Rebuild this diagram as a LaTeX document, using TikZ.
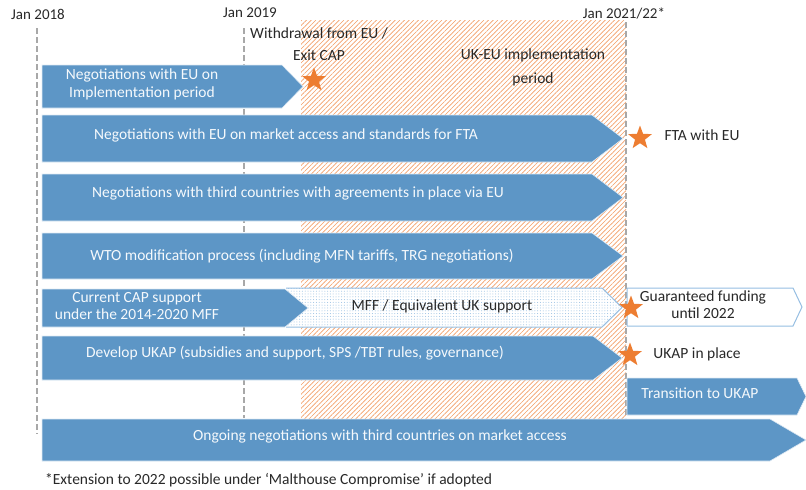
\documentclass[tikz,border=0pt]{standalone}
\usepackage{fontspec}
\setmainfont{Carlito}
\usetikzlibrary{shapes.geometric,patterns.meta}
\definecolor{barblue}{RGB}{93,150,198}
\definecolor{paleblue}{RGB}{150,190,226}
\definecolor{exitorange}{RGB}{237,125,49}
\definecolor{dategray}{RGB}{168,168,168}
\definecolor{inktext}{RGB}{40,40,40}
\tikzstyle{bar} = [fill=barblue, draw=white!80!barblue, line width=0.6pt]
\tikzstyle{openbar} = [fill=white, draw=paleblue, line width=1pt]
\tikzstyle{bartext} = [text=white!94!barblue, align=center, font=\fontsize{15.5}{17}\selectfont]
\tikzstyle{note} = [text=inktext, align=center, font=\fontsize{15.5}{17}\selectfont]
\tikzstyle{milestone} = [star, star points=5, star point ratio=2.4, fill=exitorange, minimum size=25pt, inner sep=0pt]
\tikzstyle{dateline} = [dategray, line width=2pt, dash pattern=on 6pt off 3pt]

\begin{document}
\begin{tikzpicture}[x=1pt, y=-1pt]

        \useasboundingbox (0,0) rectangle (806,490);

        % UK-EU implementation period (hatched)
        \fill[pattern={Lines[angle=45,distance=3.3pt,line width=0.65pt]}, pattern color=exitorange!75] (301,20) rectangle (626,418);

        % Date markers
        \node[note, font=\fontsize{15}{17}\selectfont] (jan18) at (38,14) {Jan 2018};
        \node[note, font=\fontsize{15}{17}\selectfont] (jan19) at (250,13) {Jan 2019};
        \node[note, font=\fontsize{15}{17}\selectfont] (jan21) at (624,13) {Jan 2021/22*};
        \draw[dateline] (37,28) -- (37,434);
        \draw[dateline] (244,28) -- (244,418);
        \draw[dateline] (626,22) -- (626,418);

        \node[note, font=\fontsize{15.5}{22}\selectfont] (exit) at (319,44) {Withdrawal from EU /\\Exit CAP};
        \node[note, font=\fontsize{15.5}{24}\selectfont] (impl) at (533,67) {UK-EU implementation\\period};

        % MFF / Equivalent UK support (dotted)
        \fill[white] (286,288) -- (602,288) -- (622,307.5) -- (602,327) -- (286,327) -- cycle;
        \fill[pattern={Dots[distance=2.8pt,radius=0.5pt]}, pattern color=paleblue] (286,288) -- (602,288) -- (622,307.5) -- (602,327) -- (286,327) -- cycle;
        \draw[paleblue, line width=1pt] (286,288) -- (602,288) -- (622,307.5) -- (602,327) -- (286,327);

        % Blue bars
        \draw[bar] (42,65) -- (282,65) -- (303,86.5) -- (282,108) -- (42,108) -- cycle;
        \draw[bar] (42,115) -- (592,115) -- (623,138.5) -- (592,162) -- (42,162) -- cycle;
        \draw[bar] (42,174) -- (592,174) -- (623,197.5) -- (592,221) -- (42,221) -- cycle;
        \draw[bar] (42,233) -- (592,233) -- (623,256) -- (592,279) -- (42,279) -- cycle;
        \draw[bar] (42,289) -- (285,289) -- (308,308) -- (285,327) -- (42,327) -- cycle;
        \draw[bar] (42,336) -- (593,336) -- (622,358) -- (593,380) -- (42,380) -- cycle;
        \draw[bar] (627,378) -- (797,378) -- (806,396.5) -- (797,415) -- (627,415) -- cycle;
        \draw[bar] (42,419) -- (770,419) -- (806,440) -- (770,461) -- (42,461) -- cycle;

        % Guaranteed funding (outline only)
        \draw[openbar] (627,288) -- (793,288) -- (802,307) -- (793,326) -- (627,326) -- cycle;

        % Bar labels
        \node[bartext, font=\fontsize{15.5}{18}\selectfont] (implneg) at (142,84) {Negotiations with EU on\\Implementation period};
        \node[bartext] (fta) at (286,135) {Negotiations with EU on market access and standards for FTA};
        \node[bartext] (third) at (298,193) {Negotiations with third countries with agreements in place via EU};
        \node[bartext] (wto) at (302,256) {WTO modification process (including MFN tariffs, TRG negotiations)};
        \node[bartext] (cap) at (137,306) {Current CAP support\\under the 2014-2020 MFF};
        \node[note] (mff) at (442,306) {MFF / Equivalent UK support};
        \node[bartext] (ukap) at (295,353) {Develop UKAP (subsidies and support, SPS /TBT rules, governance)};
        \node[bartext] (trans) at (700,393) {Transition to UKAP};
        \node[bartext] (ongoing) at (380,436) {Ongoing negotiations with third countries on market access};
        \node[note] (funding) at (703,305) {Guaranteed funding\\until 2022};

        % Milestones
        \node[milestone] (exitstar) at (314,80) {};
        \node[milestone] (ftastar) at (640,138) {};
        \node[milestone] (fundstar) at (631,308) {};
        \node[milestone] (ukapstar) at (630,355) {};
        \node[note] (ftaeu) at (702,135) {FTA with EU};
        \node[note] (inplace) at (697,354) {UKAP in place};

        % Footnote
        \node[note, anchor=west, inner sep=0pt] (footnote) at (45,480) {*Extension to 2022 possible under ‘Malthouse Compromise’ if adopted};

\end{tikzpicture}
\end{document}
